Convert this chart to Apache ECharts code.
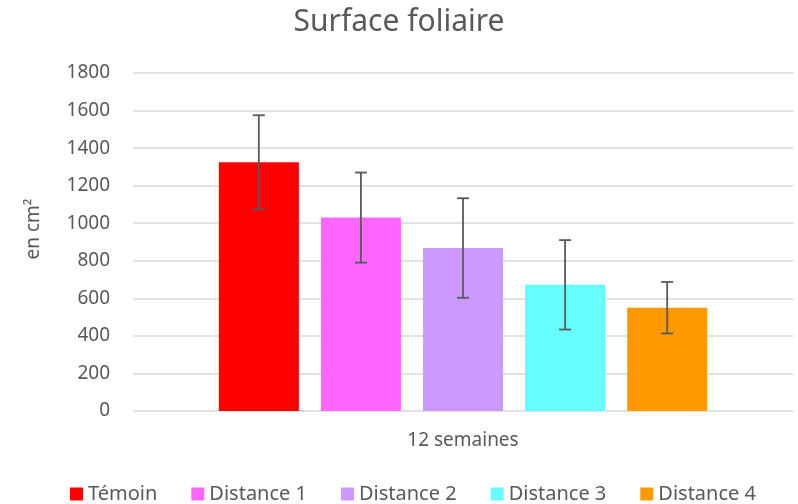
<!DOCTYPE html>
<html>
<head>
<meta charset="utf-8">
<script src="https://cdn.jsdelivr.net/npm/echarts@6/dist/echarts.min.js"></script>
<style>html,body{margin:0;padding:0;background:#fff}#c{width:798px;height:504px}</style>
</head>
<body>
<div id="c"></div>
<script>
var categories = ['12 semaines'];
var seriesNames = ['Témoin', 'Distance 1', 'Distance 2', 'Distance 3', 'Distance 4'];
var seriesValues = [1325, 1030, 868, 672, 550];
var errorValues = [250, 240, 265, 238, 137];
var colors = ['#ff0000', '#ff66ff', '#cc99ff', '#66ffff', '#ff9900'];
var yTicks = {min: 0, max: 1800, interval: 200};

var CAT_GAP = 0.26, BAR_GAP = 0.275;
var FONT = 'Noto Sans';
var TXT = '#595959';

var chart = echarts.init(document.getElementById('c'));
var series = seriesNames.map(function (n, i) {
  return {
    name: n, type: 'bar', data: [seriesValues[i]],
    itemStyle: {color: colors[i]},
    barGap: (BAR_GAP * 100) + '%', barCategoryGap: (CAT_GAP * 100) + '%'
  };
});
var errData = seriesNames.map(function (n, i) { return [0, seriesValues[i], errorValues[i], i]; });
series.push({
  type: 'custom', z: 10, silent: true,
  data: errData,
  renderItem: function (params, api) {
    var band = api.size([1, 0])[0];
    var n = seriesNames.length;
    var total = band * (1 - CAT_GAP);
    var bw = total / (n + (n - 1) * BAR_GAP);
    var idx = api.value(3);
    var c = api.coord([api.value(0), api.value(1)]);
    var x = c[0] - total / 2 + bw / 2 + idx * bw * (1 + BAR_GAP);
    var hi = api.coord([0, api.value(1) + api.value(2)])[1];
    var lo = api.coord([0, api.value(1) - api.value(2)])[1];
    var cap = 6;
    var st = {stroke: '#595959', lineWidth: 1.8};
    return {type: 'group', children: [
      {type: 'line', shape: {x1: x, y1: hi, x2: x, y2: lo}, style: st},
      {type: 'line', shape: {x1: x - cap, y1: hi, x2: x + cap, y2: hi}, style: st},
      {type: 'line', shape: {x1: x - cap, y1: lo, x2: x + cap, y2: lo}, style: st}
    ]};
  }
});

chart.setOption({
  animation: false,
  textStyle: {fontFamily: FONT},
  title: {
    text: 'Surface foliaire', left: 'center', top: 2,
    textStyle: {fontFamily: FONT, fontSize: 30, fontWeight: 'normal', color: TXT}
  },
  grid: {left: 133, right: 5, top: 73, bottom: 93},
  legend: {
    data: seriesNames, left: 65, top: 479, icon: 'rect', itemWidth: 13, itemHeight: 13,
    itemGap: 34, textStyle: {fontFamily: FONT, fontSize: 20, color: TXT}
  },
  xAxis: {
    type: 'category', data: categories,
    axisLine: {show: false}, axisTick: {show: false},
    axisLabel: {fontFamily: FONT, fontSize: 19, color: TXT, margin: 20}
  },
  yAxis: {
    type: 'value', min: yTicks.min, max: yTicks.max, interval: yTicks.interval,
    name: 'en cm²', nameLocation: 'middle', nameGap: 90, nameRotate: 90,
    nameTextStyle: {fontFamily: FONT, fontSize: 19, color: TXT, padding: [0, 0, 0, 26]},
    axisLine: {show: false}, axisTick: {show: false},
    axisLabel: {fontFamily: FONT, fontSize: 19, color: TXT, margin: 23,
      formatter: function (v) { return String(v); }},
    splitLine: {lineStyle: {color: '#d9d9d9', width: 1.5}}
  },
  series: series
});
</script>
</body>
</html>
